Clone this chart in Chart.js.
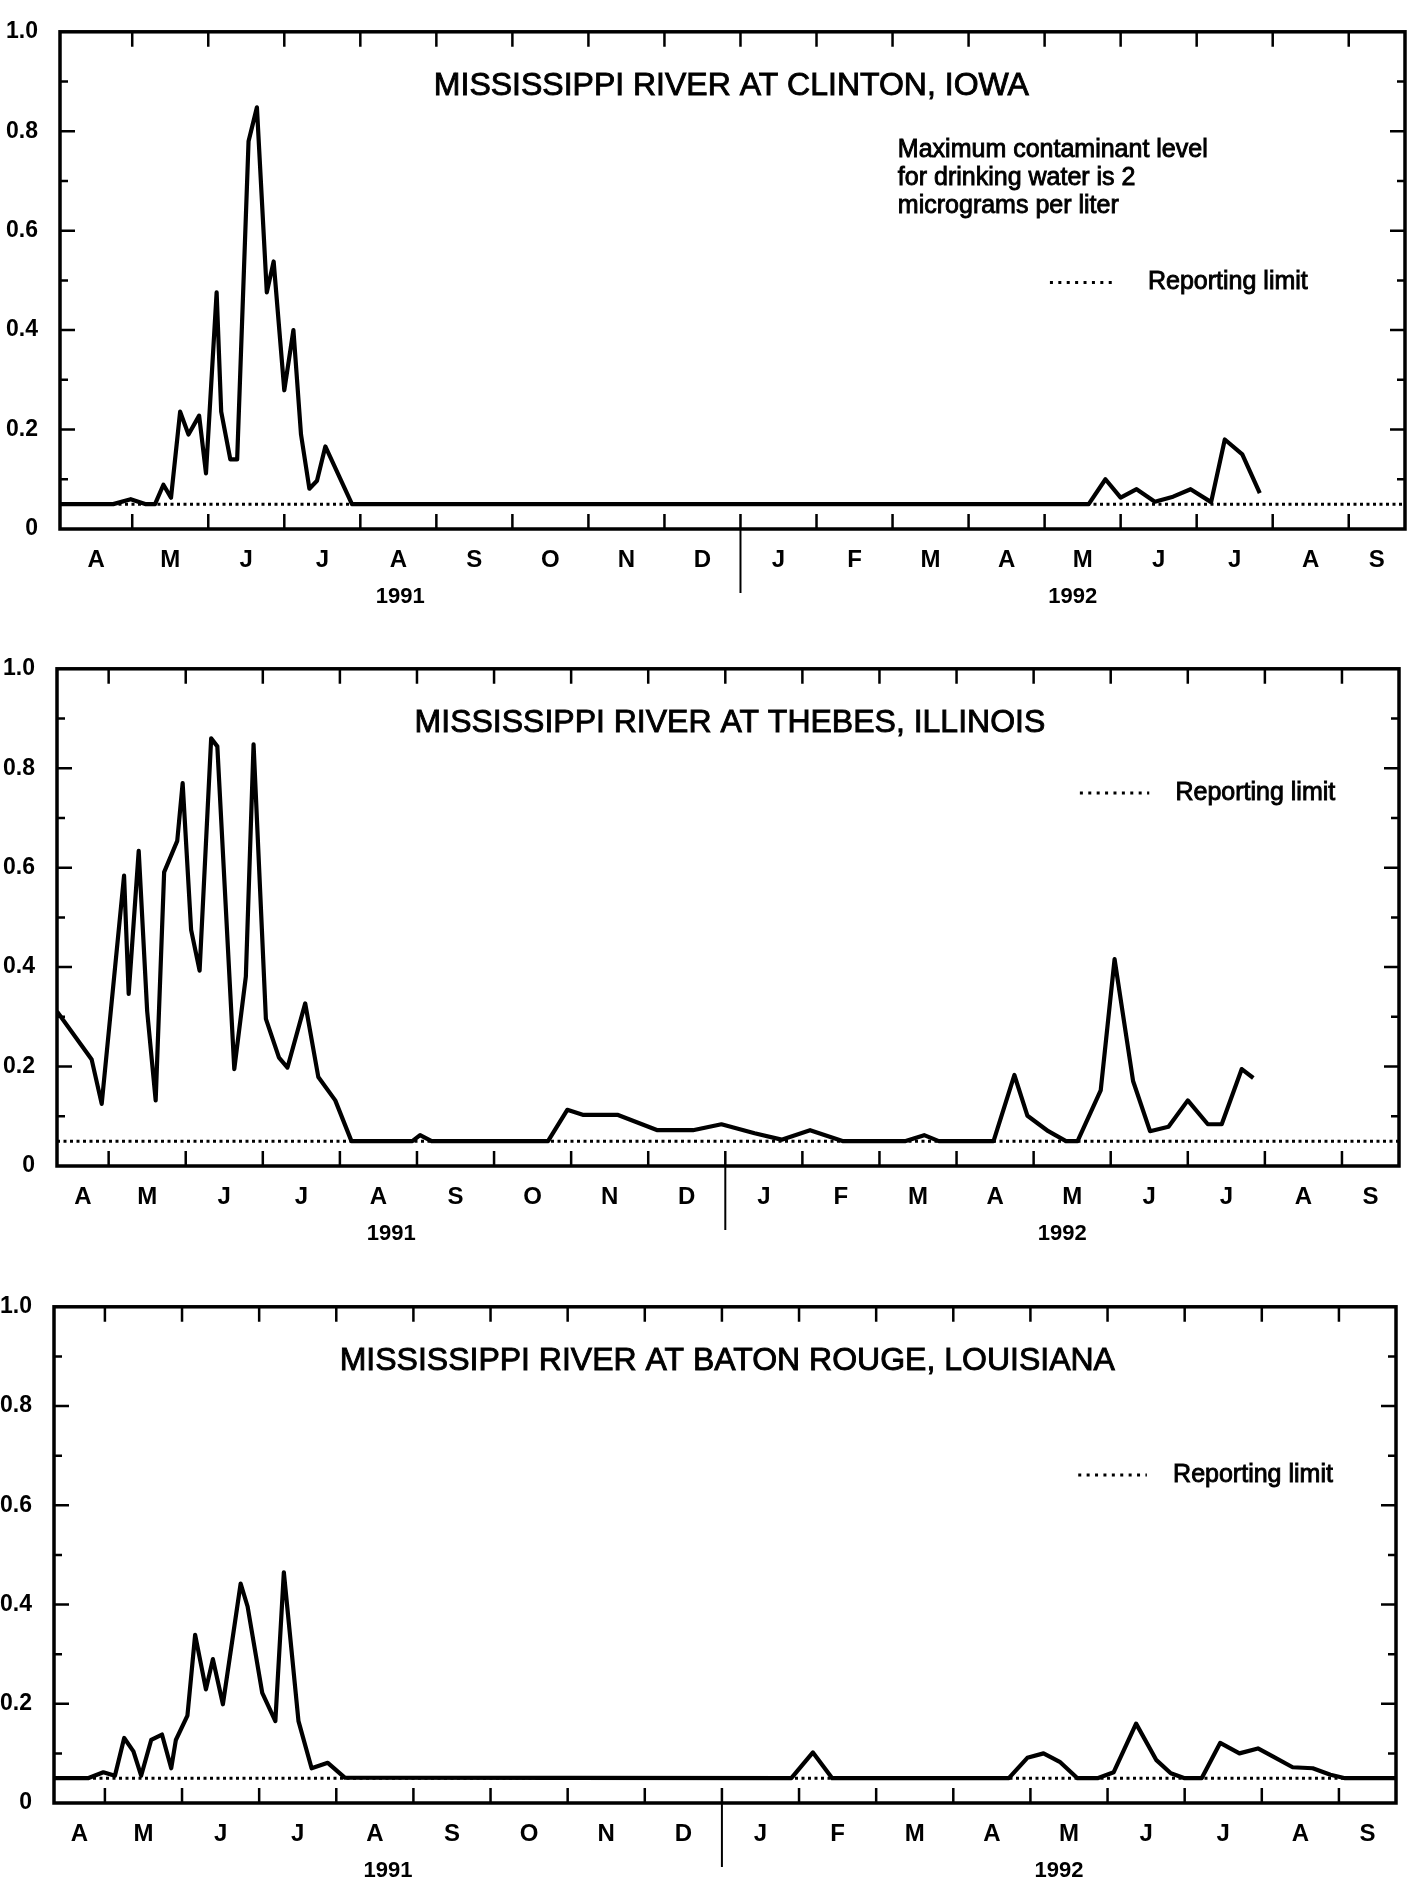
<!DOCTYPE html>
<html>
<head>
<meta charset="utf-8">
<title>Mississippi River, 1991-92</title>
<script src="https://cdn.jsdelivr.net/npm/chart.js@4.4.1/dist/chart.umd.min.js"></script>
<style>
  html, body { margin: 0; padding: 0; background: #fff; overflow: hidden; }
  canvas { position: absolute; left: 0; }
</style>
</head>
<body>
<canvas id="clinton"></canvas>
<canvas id="thebes"></canvas>
<canvas id="batonRouge"></canvas>
<script>
// x is in months since 1 April 1991 (1 = May 1, 9 = Jan 1 1992, 17 = Sep 1 1992)
const monthLetters = ['A', 'M', 'J', 'J', 'A', 'S', 'O', 'N', 'D', 'J', 'F', 'M', 'A', 'M', 'J', 'J', 'A', 'S'];
const yearLabels = ['1991', '1992'];
const yTicks = [0, 0.2, 0.4, 0.6, 0.8, 1.0];
const REPORTING_LIMIT = 0.05;
const YEAR_BREAK = 9;
const X_MAX = 17.74;

// concentrations, micrograms per liter
const clintonMonth = [0.05, 0.75, 0.98, 1.18, 1.3, 1.41, 1.51, 1.63, 1.74, 1.88, 1.97, 2.11, 2.17, 2.29, 2.38, 2.53, 2.64, 2.77, 2.86, 3.0, 3.12, 3.22, 3.33, 3.43, 3.54, 3.89,
  13.58, 13.8, 14.0, 14.21, 14.45, 14.69, 14.92, 15.19, 15.37, 15.6, 15.83];
const clintonValue = [0.05, 0.05, 0.06, 0.05, 0.05, 0.089, 0.063, 0.236, 0.19, 0.228, 0.112, 0.476, 0.236, 0.14, 0.14, 0.78, 0.848, 0.476, 0.538, 0.279, 0.40, 0.19, 0.081, 0.097, 0.166, 0.05,
  0.05, 0.10, 0.063, 0.08, 0.055, 0.065, 0.08, 0.054, 0.18, 0.15, 0.072];

const thebesMonth = [0.33, 0.78, 0.91, 1.2, 1.26, 1.39, 1.5, 1.61, 1.72, 1.89, 1.96, 2.07, 2.18, 2.33, 2.41, 2.63, 2.78, 2.88, 3.04, 3.21, 3.32, 3.55, 3.72, 3.94, 4.15,
  4.94, 5.04, 5.19, 6.7, 6.95, 7.15, 7.6, 8.12, 8.58, 8.95, 9.38, 9.73, 10.1, 10.53, 11.33, 11.58, 11.77,
  12.48, 12.75, 12.92, 13.19, 13.42, 13.57, 13.87, 14.05, 14.29, 14.51, 14.75, 15.0, 15.26, 15.44, 15.7, 15.85];
const thebesValue = [0.311, 0.214, 0.125, 0.584, 0.346, 0.634, 0.311, 0.132, 0.591, 0.654, 0.77, 0.475, 0.393, 0.86, 0.844, 0.195, 0.381, 0.848, 0.296, 0.218, 0.198, 0.327, 0.179, 0.132, 0.05,
  0.05, 0.062, 0.05, 0.05, 0.113, 0.103, 0.103, 0.072, 0.072, 0.084, 0.066, 0.053, 0.072, 0.05, 0.05, 0.062, 0.05,
  0.05, 0.183, 0.101, 0.07, 0.05, 0.05, 0.152, 0.416, 0.171, 0.07, 0.079, 0.132, 0.084, 0.084, 0.195, 0.177];

const batonRougeMonth = [0.34, 0.78, 0.98, 1.13, 1.25, 1.37, 1.47, 1.6, 1.74, 1.86, 1.92, 2.07, 2.17, 2.31, 2.4, 2.53, 2.76, 2.85, 3.04, 3.21, 3.32, 3.51, 3.68, 3.89, 4.11,
  9.9, 10.18, 10.43, 12.72, 12.96, 13.17, 13.38, 13.61, 13.87, 14.08, 14.37, 14.63, 14.82, 15.0, 15.22,
  15.46, 15.71, 15.95, 16.13, 16.4, 16.66, 16.89, 17.08, 17.74];
const batonRougeValue = [0.05, 0.05, 0.062, 0.055, 0.131, 0.104, 0.055, 0.127, 0.138, 0.07, 0.127, 0.176, 0.339, 0.229, 0.29, 0.199, 0.442, 0.396, 0.222, 0.165, 0.465, 0.165, 0.07, 0.081, 0.051,
  0.05, 0.102, 0.05, 0.05, 0.091, 0.10, 0.083, 0.05, 0.05, 0.062, 0.16, 0.087, 0.06, 0.05, 0.05,
  0.121, 0.10, 0.11, 0.095, 0.072, 0.07, 0.057, 0.05, 0.05];

const INK = '#000';
const FONT = '"Liberation Sans", Arial, Helvetica, sans-serif';
const PAD_TOP = 16;
const BELOW_AXIS = 100;

const panels = [
  {
    id: 'clinton', month: clintonMonth, value: clintonValue,
    box: { left: 60, top: 20, right: 1405, bottom: 529 }, xMin: 0.05,
    title: 'MISSISSIPPI RIVER AT CLINTON, IOWA', titleAt: [8.88, 0.89],
    note: ['Maximum contaminant level', 'for drinking water is 2', 'micrograms per liter'], noteAt: [11.07, 0.762], noteStep: 0.056,
    legendAt: [13.07, 13.95, 14.36, 0.496]
  },
  {
    id: 'thebes', month: thebesMonth, value: thebesValue,
    box: { left: 57, top: 657, right: 1399, bottom: 1166 }, xMin: 0.33,
    title: 'MISSISSIPPI RIVER AT THEBES, ILLINOIS', titleAt: [9.06, 0.89],
    legendAt: [13.6, 14.5, 14.84, 0.75]
  },
  {
    id: 'batonRouge', month: batonRougeMonth, value: batonRougeValue,
    box: { left: 54, top: 1295, right: 1396, bottom: 1803 }, xMin: 0.34,
    title: 'MISSISSIPPI RIVER AT BATON ROUGE, LOUISIANA', titleAt: [9.07, 0.89],
    legendAt: [13.62, 14.51, 14.85, 0.661]
  }
];

// filled text with a thin outline so it reads as heavy as printed type
function heavyText(ctx, text, px, py) {
  ctx.fillText(text, px, py);
  ctx.strokeText(text, px, py);
}

// frame with inward ticks, year divider, titles, note and legend
function decorations(p) {
  return {
    id: 'decorations',
    afterDatasetsDraw(chart) {
      const { ctx, chartArea: a, scales: { x, y } } = chart;
      ctx.save();
      ctx.strokeStyle = INK;
      ctx.fillStyle = INK;

      ctx.lineWidth = 3.5;
      ctx.strokeRect(a.left, a.top, a.right - a.left, a.bottom - a.top);

      ctx.lineWidth = 2.5;
      ctx.beginPath();
      for (let i = 1; i < 10; i++) {
        const py = y.getPixelForValue(i / 10);
        const len = i % 2 === 0 ? 15 : 8;
        ctx.moveTo(a.left, py); ctx.lineTo(a.left + len, py);
        ctx.moveTo(a.right, py); ctx.lineTo(a.right - len, py);
      }
      for (let m = 1; m < monthLetters.length; m++) {
        const px = x.getPixelForValue(m);
        ctx.moveTo(px, a.bottom); ctx.lineTo(px, a.bottom - 15);
        ctx.moveTo(px, a.top); ctx.lineTo(px, a.top + 15);
      }
      ctx.stroke();

      const pBreak = x.getPixelForValue(YEAR_BREAK);
      ctx.lineWidth = 2;
      ctx.beginPath();
      ctx.moveTo(pBreak, a.bottom);
      ctx.lineTo(pBreak, a.bottom + 64);
      ctx.stroke();

      ctx.textAlign = 'center';
      ctx.textBaseline = 'middle';
      ctx.font = `bold 22px ${FONT}`;
      ctx.fillText(yearLabels[0], x.getPixelForValue((p.xMin + YEAR_BREAK) / 2), a.bottom + 68);
      ctx.fillText(yearLabels[1], x.getPixelForValue((YEAR_BREAK + X_MAX) / 2), a.bottom + 68);

      ctx.lineWidth = 0.9;
      ctx.font = `32px ${FONT}`;
      heavyText(ctx, p.title, x.getPixelForValue(p.titleAt[0]), y.getPixelForValue(p.titleAt[1]));

      ctx.textAlign = 'left';
      ctx.font = `25px ${FONT}`;
      if (p.note) {
        p.note.forEach((line, i) => {
          heavyText(ctx, line, x.getPixelForValue(p.noteAt[0]), y.getPixelForValue(p.noteAt[1] - i * p.noteStep));
        });
      }

      const [l0, l1, lt, lv] = p.legendAt;
      const ly = y.getPixelForValue(lv);
      heavyText(ctx, 'Reporting limit', x.getPixelForValue(lt), ly);
      ctx.lineWidth = 3;
      ctx.setLineDash([3, 5.4]);
      ctx.beginPath();
      ctx.moveTo(x.getPixelForValue(l0), ly);
      ctx.lineTo(x.getPixelForValue(l1), ly);
      ctx.stroke();
      ctx.restore();
    }
  };
}

function monthTicks(xMin) {
  return monthLetters.map((_, i) => {
    if (i === 0) return (xMin + 1) / 2;
    if (i === monthLetters.length - 1) return (i + X_MAX) / 2;
    return i + 0.5;
  });
}

panels.forEach(p => {
  const canvas = document.getElementById(p.id);
  const plotH = p.box.bottom - p.box.top;
  canvas.width = 1409;
  canvas.height = PAD_TOP + plotH + BELOW_AXIS;
  canvas.style.top = (p.box.top - PAD_TOP) + 'px';

  const centers = monthTicks(p.xMin);

  new Chart(canvas, {
    type: 'line',
    data: {
      datasets: [
        {
          data: p.month.map((m, i) => ({ x: m, y: p.value[i] })),
          borderColor: INK, borderWidth: 4.2, borderJoinStyle: 'round',
          pointRadius: 0, tension: 0, fill: false, order: 0
        },
        {
          data: [{ x: p.xMin, y: REPORTING_LIMIT }, { x: X_MAX, y: REPORTING_LIMIT }],
          borderColor: INK, borderWidth: 3, borderDash: [3, 3.5],
          pointRadius: 0, fill: false, order: 1
        }
      ]
    },
    options: {
      responsive: false,
      animation: false,
      events: [],
      layout: { padding: { top: PAD_TOP, right: 1409 - p.box.right, left: 0, bottom: 0 } },
      plugins: { legend: { display: false }, tooltip: { enabled: false } },
      scales: {
        x: {
          type: 'linear', min: p.xMin, max: X_MAX,
          afterBuildTicks: s => { s.ticks = centers.map(v => ({ value: v })); },
          afterFit: s => { s.height = BELOW_AXIS; },
          grid: { display: false }, border: { display: false },
          ticks: {
            autoSkip: false, maxRotation: 0, padding: 9, color: INK,
            font: { family: FONT, size: 24, weight: 'bold' },
            callback: (v, i) => monthLetters[i]
          }
        },
        y: {
          min: 0, max: 1,
          afterBuildTicks: s => { s.ticks = yTicks.map(v => ({ value: v })); },
          afterFit: s => { s.width = p.box.left; },
          grid: { display: false }, border: { display: false },
          ticks: {
            padding: 14, color: INK,
            font: { family: FONT, size: 23, weight: 'bold' },
            callback: v => (v === 0 ? '0' : v.toFixed(1))
          }
        }
      }
    },
    plugins: [decorations(p)]
  });
});
</script>
</body>
</html>
